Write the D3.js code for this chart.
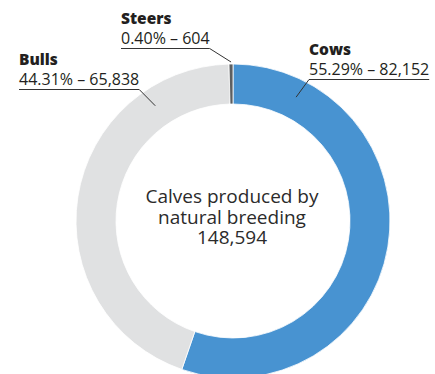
<!DOCTYPE html>
<html>
<head>
<meta charset="utf-8">
<script src="https://d3js.org/d3.v7.min.js"></script>
<style>
  body { margin: 0; background: #fff; }
  text { font-family: "Open Sans", sans-serif; fill: #231f20; }
</style>
</head>
<body>
<div id="chart"></div>
<script>
// data
var categories = ["Cows", "Bulls", "Steers"];
var values = [82152, 65838, 604];
var percents = ["55.29%", "44.31%", "0.40%"];
var valueLabels = ["82,152", "65,838", "604"];
var totalLabel = "148,594";
var centerLines = ["Calves produced by", "natural breeding", totalLabel];
var colors = ["#4893d1", "#e0e1e2", "#5d5f61"];

var W = 435, H = 374;
var cx = 233, cy = 221, rOuter = 157, rInner = 117;

// label layout: text x, title baseline, side the leader leaves from, ring angle (deg) and radius it points to
var labelLayout = [
  { x: 309, y: 55, side: "left",  angle: 27,    r: 139 },
  { x: 19,  y: 65, side: "right", angle: -34,   r: 139 },
  { x: 121, y: 24, side: "right", angle: -0.7,  r: 159 }
];

var svg = d3.select("#chart").append("svg")
  .attr("width", W).attr("height", H);

var g = svg.append("g").attr("transform", "translate(" + cx + "," + cy + ")");

var pie = d3.pie().sort(null).value(function (d) { return d; });
var arc = d3.arc().innerRadius(rInner).outerRadius(rOuter);

g.selectAll("path.slice")
  .data(pie(values))
  .enter().append("path")
  .attr("class", "slice")
  .attr("d", arc)
  .attr("fill", function (d, i) { return colors[i]; })
  .attr("stroke", "#fff")
  .attr("stroke-width", 0.8);

// centre text
svg.selectAll("text.center")
  .data(centerLines)
  .enter().append("text")
  .attr("class", "center")
  .attr("x", cx - 1)
  .attr("y", function (d, i) { return 203 + i * 20.7; })
  .attr("text-anchor", "middle")
  .style("font-size", "19px")
  .style("fill", "#2b2b2b")
  .text(function (d) { return d; });

// labels
categories.forEach(function (c, i) {
  var L = labelLayout[i];
  svg.append("text")
    .attr("x", L.x).attr("y", L.y)
    .style("font-size", "15.5px")
    .style("font-weight", "800")
    .text(c);
  var t = svg.append("text")
    .attr("x", L.x).attr("y", L.y + 20)
    .style("font-size", "16px")
    .text(percents[i] + " \u2013 " + valueLabels[i]);
  var w = t.node().getComputedTextLength();
  var uy = L.y + 24.5;
  var a = L.angle * Math.PI / 180;
  var px = cx + L.r * Math.sin(a), py = cy - L.r * Math.cos(a);
  var pts;
  if (L.side === "left") pts = [[L.x + w, uy], [L.x, uy], [px, py]];
  else pts = [[L.x, uy], [L.x + w, uy], [px, py]];
  svg.append("path")
    .attr("d", d3.line()(pts))
    .attr("fill", "none")
    .attr("stroke", "#333")
    .attr("stroke-width", 1);
});
</script>
</body>
</html>
